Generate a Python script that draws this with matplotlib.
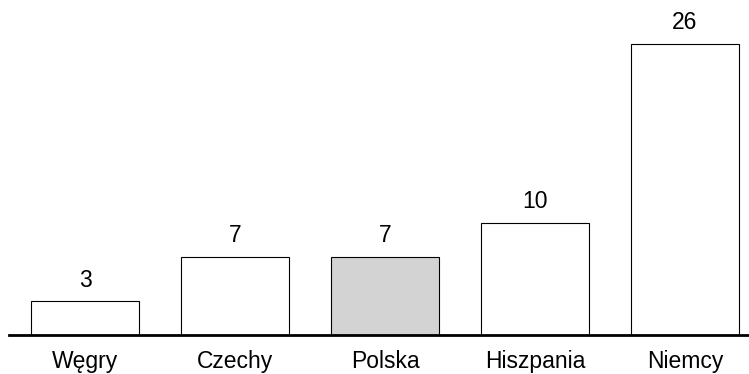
import matplotlib.pyplot as plt

# data
countries = ["Węgry", "Czechy", "Polska", "Hiszpania", "Niemcy"]
values = [3, 7, 7, 10, 26]
fills = ["white", "white", "#d3d3d3", "white", "white"]

plt.rcParams["font.family"] = ["Liberation Sans", "DejaVu Sans"]

fig = plt.figure(figsize=(7.49, 3.74), dpi=100)
ax = fig.add_axes([9 / 749, 39 / 374, 740 / 749, 335 / 374])

x = range(len(countries))
bars = ax.bar(x, values, width=0.715, color=fills, edgecolor="black", linewidth=0.8)

for xi, v in zip(x, values):
    ax.annotate(str(v), (xi, v), xytext=(0, 10.5), textcoords="offset points",
                ha="center", va="baseline", fontsize=16.5)

ax.set_xlim(-0.507, 4.427)
ax.set_ylim(0, 29.9)
ax.set_xticks(list(x))
ax.set_xticklabels(countries, fontsize=16.5)
ax.tick_params(axis="x", length=0, pad=10.5)
ax.set_yticks([])

for side in ["top", "right", "left"]:
    ax.spines[side].set_visible(False)
ax.spines["bottom"].set_linewidth(2)

fig.savefig("out.png", dpi=100)
